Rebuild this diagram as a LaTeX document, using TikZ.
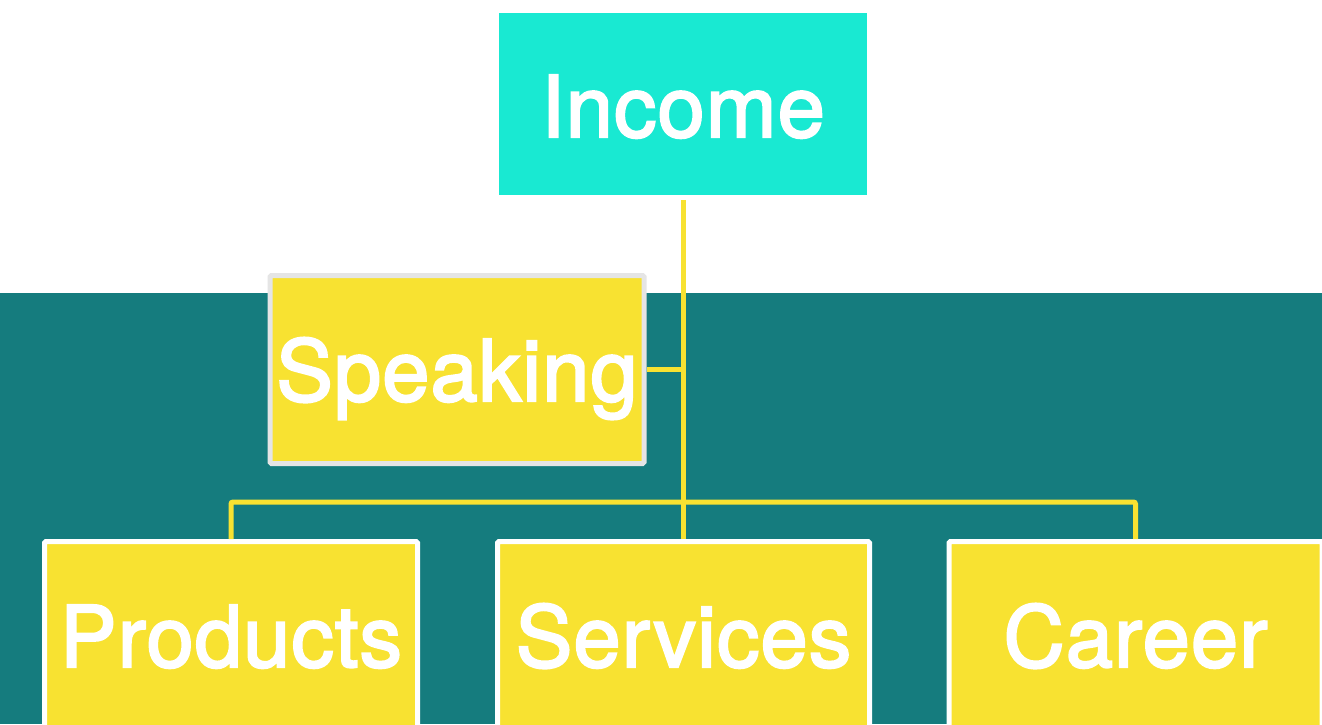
\documentclass[tikz,border=0pt]{standalone}
\usepackage{fontspec}
\setmainfont{TeX Gyre Heros}
\newfontfamily\heavyfont[FakeBold=2.5,LetterSpace=1.2]{TeX Gyre Heros}
\definecolor{teal1}{HTML}{157C7E}
\definecolor{yell}{HTML}{F8E231}
\definecolor{aqua}{HTML}{19E9D2}
\definecolor{greyb}{HTML}{E5E5E5}
\begin{document}
\begin{tikzpicture}[x=1pt,y=-1pt,
  lbl/.style={inner sep=0pt, text=white, font=\heavyfont\fontsize{85}{85}\selectfont, text height=63pt, text depth=0pt},
  childbox/.style={lbl, fill=yell, draw=white, line width=5pt, rounded corners=1.5pt, minimum width=373pt, minimum height=188pt},
  conn/.style={draw=yell, line width=5pt, rounded corners=2pt}]
\useasboundingbox (0,0) rectangle (1322,724);
\clip (0,0) rectangle (1322,724);
\fill[white] (0,0) rectangle (1322,724);
\fill[teal1] (0,293) rectangle (1322,724);
\coordinate (bus) at (683,502);
\node[lbl, fill=aqua, minimum width=368pt, minimum height=182pt, text height=66pt] (income) at (683,104) {Income};
\node[childbox, draw=greyb, minimum width=374pt] (speaking) at (457,369.5) {Speaking};
\node[childbox] (products) at (231,635.5) {Products};
\node[childbox, minimum width=372pt] (services) at (683.5,635.5) {Services};
\node[childbox] (career) at (1135.5,635.5) {Career};
\draw[conn] ([yshift=-5pt]income.south) -- (income.south |- services.north);
\draw[conn] (speaking.east) -- (speaking.east -| income.south);
\draw[conn] (products.north) |- (bus) -| (career.north);
\end{tikzpicture}
\end{document}
